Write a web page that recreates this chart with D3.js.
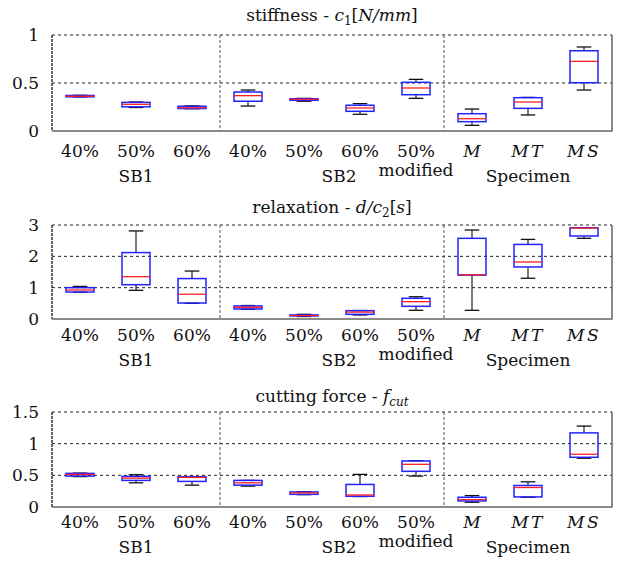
<!DOCTYPE html>
<html>
<head>
<meta charset="utf-8">
<script src="https://cdn.jsdelivr.net/npm/d3@7"></script>
<style>
  body { margin: 0; background: #fff; }
  svg text { font-family: "DejaVu Serif", "Liberation Serif", serif; font-size: 17px; fill: #111; }
</style>
</head>
<body>
<svg width="619" height="562"></svg>
<script>
// categories along x (three groups)
const categories = ["40%", "50%", "60%", "40%", "50%", "60%", "50%", "M", "MT", "MS"];
const secondLine = ["", "", "", "", "", "", "modified", "", "", ""];
const groupNames = ["SB1", "SB2", "Specimen"];
const groupOf = [0, 0, 0, 1, 1, 1, 1, 2, 2, 2];

// box stats per category: [min, q1, median, q3, max]
const stiffness = [
  [0.355, 0.356, 0.362, 0.370, 0.372],
  [0.245, 0.252, 0.278, 0.298, 0.302],
  [0.232, 0.234, 0.242, 0.258, 0.262],
  [0.260, 0.310, 0.368, 0.406, 0.427],
  [0.310, 0.320, 0.330, 0.336, 0.340],
  [0.174, 0.205, 0.240, 0.268, 0.285],
  [0.340, 0.378, 0.448, 0.507, 0.538],
  [0.059, 0.097, 0.128, 0.180, 0.229],
  [0.167, 0.236, 0.302, 0.347, 0.350],
  [0.427, 0.503, 0.726, 0.836, 0.875]
];
const relaxation = [
  [0.85, 0.86, 0.925, 1.00, 1.04],
  [0.915, 1.095, 1.35, 2.12, 2.81],
  [0.50, 0.51, 0.79, 1.29, 1.53],
  [0.31, 0.32, 0.373, 0.415, 0.43],
  [0.08, 0.10, 0.11, 0.13, 0.15],
  [0.128, 0.15, 0.22, 0.265, 0.27],
  [0.277, 0.405, 0.553, 0.66, 0.71],
  [0.277, 1.40, 1.41, 2.575, 2.84],
  [1.30, 1.66, 1.82, 2.38, 2.54],
  [2.575, 2.65, 2.90, 2.91, 2.915]
];
const cutting = [
  [0.480, 0.488, 0.515, 0.531, 0.535],
  [0.382, 0.420, 0.456, 0.483, 0.510],
  [0.345, 0.404, 0.467, 0.477, 0.480],
  [0.330, 0.345, 0.382, 0.420, 0.420],
  [0.195, 0.200, 0.223, 0.238, 0.240],
  [0.165, 0.170, 0.190, 0.356, 0.515],
  [0.488, 0.563, 0.674, 0.727, 0.730],
  [0.075, 0.095, 0.117, 0.154, 0.180],
  [0.155, 0.159, 0.308, 0.340, 0.397],
  [0.770, 0.785, 0.833, 1.170, 1.278]
];

const stiffnessTicks = [0, 0.5, 1];
const relaxationTicks = [0, 1, 2, 3];
const cuttingTicks = [0, 0.5, 1, 1.5];

const svg = d3.select("svg");
const left = 52, right = 612;

const x = d3.scaleBand()
  .domain(d3.range(categories.length))
  .range([left, right])
  .padding(0);

const boxW = x.bandwidth() * 0.5;
const capW = x.bandwidth() * 0.26;

const panels = [
  { data: stiffness, ticks: stiffnessTicks, top: 35, bottom: 131, titleY: 21, tickY: 156.5,
    title: [["stiffness - ", ""], ["c", "i"], ["1", "sub"], ["[", ""], ["N/mm", "i"], ["]", ""]] },
  { data: relaxation, ticks: relaxationTicks, top: 225, bottom: 319, titleY: 213, tickY: 341,
    title: [["relaxation - ", ""], ["d/c", "i"], ["2", "sub"], ["[", ""], ["s", "i"], ["]", ""]] },
  { data: cutting, ticks: cuttingTicks, top: 412, bottom: 507, titleY: 402, tickY: 528,
    title: [["cutting force - ", ""], ["f", "i"], ["cut", "isub"]] }
];

panels.forEach(p => {
  const g = svg.append("g");
  const y = d3.scaleLinear()
    .domain(d3.extent(p.ticks))
    .range([p.bottom, p.top]);

  // title, with italic maths and subscripts
  const t = g.append("text")
    .attr("x", (left + right) / 2)
    .attr("y", p.titleY)
    .attr("text-anchor", "middle");
  let wasSub = false;
  p.title.forEach(([s, kind]) => {
    const ts = t.append("tspan").text(s);
    if (kind.includes("i")) ts.attr("font-style", "italic");
    if (kind.includes("sub")) {
      ts.attr("font-size", "12px").attr("dy", 4);
      wasSub = true;
    } else if (wasSub) {
      ts.attr("dy", -4);
      wasSub = false;
    }
  });

  // horizontal grid (dashed) at non-zero ticks, including top edge
  g.selectAll(".grid")
    .data(p.ticks.filter(v => v !== 0))
    .enter().append("line")
    .attr("x1", left).attr("x2", right)
    .attr("y1", d => y(d)).attr("y2", d => y(d))
    .attr("stroke", "#222")
    .attr("stroke-width", 1)
    .attr("stroke-dasharray", "3,3");

  // group dividers
  [3, 7].forEach(i => {
    g.append("line")
      .attr("x1", x(i)).attr("x2", x(i))
      .attr("y1", p.top).attr("y2", p.bottom)
      .attr("stroke", "#555")
      .attr("stroke-dasharray", "3,2");
  });

  // frame: left dashed, bottom/right solid
  g.append("line")
    .attr("x1", left).attr("x2", left).attr("y1", p.top).attr("y2", p.bottom)
    .attr("stroke", "#333").attr("stroke-width", 1.5).attr("stroke-dasharray", "3,1");
  g.append("path")
    .attr("d", `M${left},${p.bottom}H${right}V${p.top}`)
    .attr("fill", "none")
    .attr("stroke", "#666")
    .attr("stroke-width", 1.5);

  // y tick labels
  g.selectAll(".ytl")
    .data(p.ticks)
    .enter().append("text")
    .attr("x", 39)
    .attr("y", d => y(d))
    .attr("dy", "0.36em")
    .attr("text-anchor", "end")
    .text(d => d);

  // boxes
  const b = g.selectAll(".box")
    .data(p.data)
    .enter().append("g");
  const cx = (d, i) => x(i) + x.bandwidth() / 2;

  b.append("line")
    .attr("x1", cx).attr("x2", cx)
    .attr("y1", d => y(d[3])).attr("y2", d => y(d[4]))
    .attr("stroke", "#222").attr("stroke-width", 1.2);
  b.append("line")
    .attr("x1", cx).attr("x2", cx)
    .attr("y1", d => y(d[0])).attr("y2", d => y(d[1]))
    .attr("stroke", "#222").attr("stroke-width", 1.2);
  [0, 4].forEach(k => {
    b.append("line")
      .attr("x1", (d, i) => cx(d, i) - capW / 2)
      .attr("x2", (d, i) => cx(d, i) + capW / 2)
      .attr("y1", d => y(d[k])).attr("y2", d => y(d[k]))
      .attr("stroke", "#111").attr("stroke-width", 1.3);
  });
  b.append("rect")
    .attr("x", (d, i) => cx(d, i) - boxW / 2)
    .attr("width", boxW)
    .attr("y", d => y(d[3]))
    .attr("height", d => Math.max(1, y(d[1]) - y(d[3])))
    .attr("fill", "none")
    .attr("stroke", "#2222ff")
    .attr("stroke-width", 1.5);
  b.append("line")
    .attr("x1", (d, i) => cx(d, i) - boxW / 2)
    .attr("x2", (d, i) => cx(d, i) + boxW / 2)
    .attr("y1", d => y(d[2])).attr("y2", d => y(d[2]))
    .attr("stroke", "#ff2020").attr("stroke-width", 1.3);

  // x tick labels
  g.selectAll(".xtl")
    .data(categories)
    .enter().append("text")
    .attr("x", (d, i) => x(i) + x.bandwidth() / 2)
    .attr("y", p.tickY)
    .attr("text-anchor", "middle")
    .attr("font-style", (d, i) => groupOf[i] === 2 ? "italic" : null)
    .attr("letter-spacing", (d, i) => groupOf[i] === 2 && d.length > 1 ? "2.5px" : null)
    .text(d => d);
  // second line under a tick label
  g.selectAll(".xtl2")
    .data(secondLine)
    .enter().filter(d => d !== "").append("text")
    .attr("x", (d, i) => x(secondLine.indexOf(d)) + x.bandwidth() / 2)
    .attr("y", p.tickY + 19)
    .attr("text-anchor", "middle")
    .attr("font-size", "15.5px")
    .text(d => d);

  // group labels
  g.selectAll(".grp")
    .data(groupNames)
    .enter().append("text")
    .attr("x", (d, gi) => {
      const idx = d3.range(categories.length).filter(i => groupOf[i] === gi);
      const mid = d3.mean(idx);
      return x(Math.floor(mid)) + (mid % 1) * x.step() + x.bandwidth() / 2 + (gi === 1 ? 7 : 0);
    })
    .attr("y", p.tickY + 25)
    .attr("text-anchor", "middle")
    .text(d => d);
});
</script>
</body>
</html>
